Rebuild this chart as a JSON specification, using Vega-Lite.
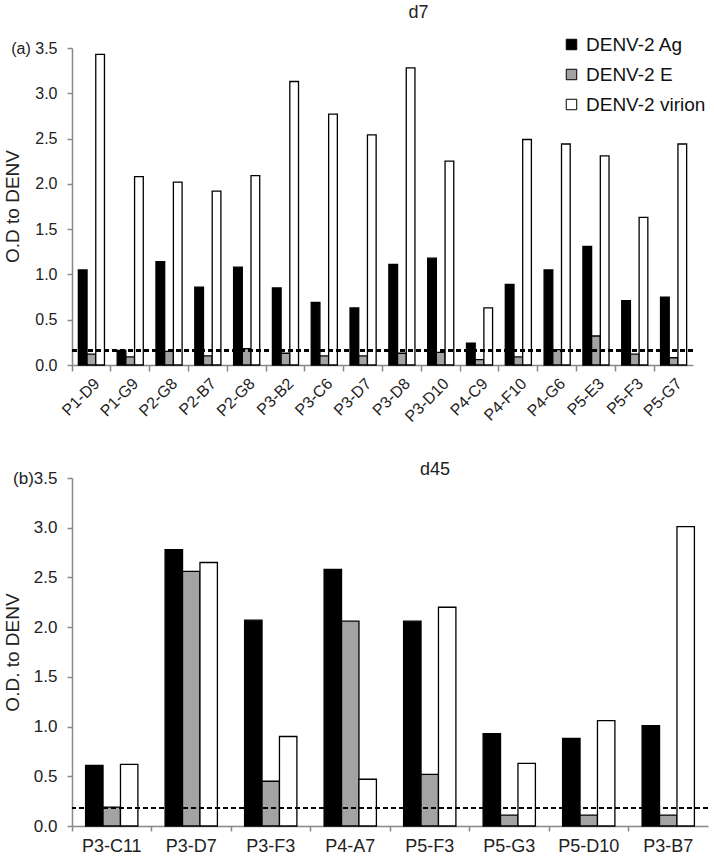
{
  "$schema": "https://vega.github.io/schema/vega-lite/v6.json",
  "padding": {"left": 3, "top": 4, "right": 5, "bottom": 2},
  "spacing": 36,
  "config": {
    "font": "Liberation Sans",
    "view": {"stroke": null},
    "axis": {"domainColor": "#888888", "tickColor": "#888888", "domainWidth": 1.5, "tickWidth": 1.5, "labelColor": "#222222", "titleColor": "#222222", "grid": false, "labelFont": "Liberation Sans", "titleFont": "Liberation Sans", "titleFontWeight": "normal"},
    "title": {"fontWeight": "normal", "fontSize": 18, "font": "Liberation Sans", "color": "#222222"}
  },
  "datasets": {
    "d7": [
      {"cat": "01:P1-D9", "series": "DENV-2 Ag", "value": 1.05},
      {"cat": "01:P1-D9", "series": "DENV-2 E", "value": 0.12},
      {"cat": "01:P1-D9", "series": "DENV-2 virion", "value": 3.43},
      {"cat": "02:P1-G9", "series": "DENV-2 Ag", "value": 0.16},
      {"cat": "02:P1-G9", "series": "DENV-2 E", "value": 0.09},
      {"cat": "02:P1-G9", "series": "DENV-2 virion", "value": 2.08},
      {"cat": "03:P2-G8", "series": "DENV-2 Ag", "value": 1.14},
      {"cat": "03:P2-G8", "series": "DENV-2 E", "value": 0.15},
      {"cat": "03:P2-G8", "series": "DENV-2 virion", "value": 2.02},
      {"cat": "04:P2-B7", "series": "DENV-2 Ag", "value": 0.86},
      {"cat": "04:P2-B7", "series": "DENV-2 E", "value": 0.10},
      {"cat": "04:P2-B7", "series": "DENV-2 virion", "value": 1.92},
      {"cat": "05:P2-G8", "series": "DENV-2 Ag", "value": 1.08},
      {"cat": "05:P2-G8", "series": "DENV-2 E", "value": 0.18},
      {"cat": "05:P2-G8", "series": "DENV-2 virion", "value": 2.09},
      {"cat": "06:P3-B2", "series": "DENV-2 Ag", "value": 0.85},
      {"cat": "06:P3-B2", "series": "DENV-2 E", "value": 0.13},
      {"cat": "06:P3-B2", "series": "DENV-2 virion", "value": 3.13},
      {"cat": "07:P3-C6", "series": "DENV-2 Ag", "value": 0.69},
      {"cat": "07:P3-C6", "series": "DENV-2 E", "value": 0.10},
      {"cat": "07:P3-C6", "series": "DENV-2 virion", "value": 2.77},
      {"cat": "08:P3-D7", "series": "DENV-2 Ag", "value": 0.63},
      {"cat": "08:P3-D7", "series": "DENV-2 E", "value": 0.10},
      {"cat": "08:P3-D7", "series": "DENV-2 virion", "value": 2.54},
      {"cat": "09:P3-D8", "series": "DENV-2 Ag", "value": 1.11},
      {"cat": "09:P3-D8", "series": "DENV-2 E", "value": 0.13},
      {"cat": "09:P3-D8", "series": "DENV-2 virion", "value": 3.28},
      {"cat": "10:P3-D10", "series": "DENV-2 Ag", "value": 1.18},
      {"cat": "10:P3-D10", "series": "DENV-2 E", "value": 0.14},
      {"cat": "10:P3-D10", "series": "DENV-2 virion", "value": 2.25},
      {"cat": "11:P4-C9", "series": "DENV-2 Ag", "value": 0.24},
      {"cat": "11:P4-C9", "series": "DENV-2 E", "value": 0.06},
      {"cat": "11:P4-C9", "series": "DENV-2 virion", "value": 0.63},
      {"cat": "12:P4-F10", "series": "DENV-2 Ag", "value": 0.89},
      {"cat": "12:P4-F10", "series": "DENV-2 E", "value": 0.09},
      {"cat": "12:P4-F10", "series": "DENV-2 virion", "value": 2.49},
      {"cat": "13:P4-G6", "series": "DENV-2 Ag", "value": 1.05},
      {"cat": "13:P4-G6", "series": "DENV-2 E", "value": 0.17},
      {"cat": "13:P4-G6", "series": "DENV-2 virion", "value": 2.44},
      {"cat": "14:P5-E3", "series": "DENV-2 Ag", "value": 1.31},
      {"cat": "14:P5-E3", "series": "DENV-2 E", "value": 0.32},
      {"cat": "14:P5-E3", "series": "DENV-2 virion", "value": 2.31},
      {"cat": "15:P5-F3", "series": "DENV-2 Ag", "value": 0.71},
      {"cat": "15:P5-F3", "series": "DENV-2 E", "value": 0.12},
      {"cat": "15:P5-F3", "series": "DENV-2 virion", "value": 1.63},
      {"cat": "16:P5-G7", "series": "DENV-2 Ag", "value": 0.75},
      {"cat": "16:P5-G7", "series": "DENV-2 E", "value": 0.08},
      {"cat": "16:P5-G7", "series": "DENV-2 virion", "value": 2.44}
    ],
    "d45": [
      {"cat": "P3-C11", "series": "DENV-2 Ag", "value": 0.61},
      {"cat": "P3-C11", "series": "DENV-2 E", "value": 0.19},
      {"cat": "P3-C11", "series": "DENV-2 virion", "value": 0.62},
      {"cat": "P3-D7", "series": "DENV-2 Ag", "value": 2.78},
      {"cat": "P3-D7", "series": "DENV-2 E", "value": 2.56},
      {"cat": "P3-D7", "series": "DENV-2 virion", "value": 2.65},
      {"cat": "P3-F3", "series": "DENV-2 Ag", "value": 2.07},
      {"cat": "P3-F3", "series": "DENV-2 E", "value": 0.45},
      {"cat": "P3-F3", "series": "DENV-2 virion", "value": 0.90},
      {"cat": "P4-A7", "series": "DENV-2 Ag", "value": 2.58},
      {"cat": "P4-A7", "series": "DENV-2 E", "value": 2.06},
      {"cat": "P4-A7", "series": "DENV-2 virion", "value": 0.47},
      {"cat": "P5-F3", "series": "DENV-2 Ag", "value": 2.06},
      {"cat": "P5-F3", "series": "DENV-2 E", "value": 0.52},
      {"cat": "P5-F3", "series": "DENV-2 virion", "value": 2.20},
      {"cat": "P5-G3", "series": "DENV-2 Ag", "value": 0.93},
      {"cat": "P5-G3", "series": "DENV-2 E", "value": 0.11},
      {"cat": "P5-G3", "series": "DENV-2 virion", "value": 0.63},
      {"cat": "P5-D10", "series": "DENV-2 Ag", "value": 0.88},
      {"cat": "P5-D10", "series": "DENV-2 E", "value": 0.11},
      {"cat": "P5-D10", "series": "DENV-2 virion", "value": 1.06},
      {"cat": "P3-B7", "series": "DENV-2 Ag", "value": 1.01},
      {"cat": "P3-B7", "series": "DENV-2 E", "value": 0.11},
      {"cat": "P3-B7", "series": "DENV-2 virion", "value": 3.01}
    ]
  },
  "resolve": {"scale": {"color": "independent", "fill": "independent", "x": "independent", "y": "independent", "xOffset": "independent"}, "legend": {"fill": "independent"}},
  "vconcat": [
    {
      "title": {"text": "d7", "dx": 36, "offset": 13},
      "width": 621,
      "height": 317,
      "data": {"name": "d7"},
      "layer": [
        {
          "mark": {"type": "bar", "stroke": "black", "strokeWidth": 1.3},
          "encoding": {
            "x": {"field": "cat", "type": "nominal", "sort": null, "scale": {"paddingInner": 0, "paddingOuter": 0},
              "axis": {"title": null, "labelAngle": -45, "labelExpr": "split(datum.label, ':')[1]", "bandPosition": 0, "labelFontSize": 16, "tickSize": 6, "labelPadding": 4}},
            "xOffset": {"field": "series", "type": "nominal", "scale": {"domain": ["DENV-2 Ag", "DENV-2 E", "DENV-2 virion"], "paddingOuter": 0.73, "paddingInner": 0}},
            "y": {"field": "value", "type": "quantitative", "scale": {"domain": [0, 3.5], "nice": false},
              "axis": {"title": "O.D to DENV", "values": [0, 0.5, 1, 1.5, 2, 2.5, 3, 3.5], "format": ".1f", "labelExpr": "datum.value == 3.5 ? '(a) 3.5' : datum.label", "titleX": -50, "titleY": 158, "titleFontSize": 19, "labelFontSize": 16, "tickSize": 5, "labelPadding": 10}},
            "fill": {"field": "series", "type": "nominal", "scale": {"domain": ["DENV-2 Ag", "DENV-2 E", "DENV-2 virion"], "range": ["#000000", "#a3a3a3", "#ffffff"]},
              "legend": {"title": null, "orient": "none", "legendX": 490, "legendY": -13, "symbolType": "square", "symbolSize": 110, "symbolStrokeColor": "black", "symbolStrokeWidth": 1, "labelFontSize": 19, "rowPadding": 10, "labelOffset": 5, "labelColor": "#111111"}}
          }
        },
        {
          "mark": {"type": "rule", "strokeDash": [5, 3], "color": "black", "strokeWidth": 1.5},
          "encoding": {"y": {"datum": 0.16}}
        }
      ]
    },
    {
      "title": {"text": "d45", "dx": 45, "offset": -10},
      "width": 636,
      "height": 348,
      "data": {"name": "d45"},
      "layer": [
        {
          "mark": {"type": "bar", "stroke": "black", "strokeWidth": 1.3},
          "encoding": {
            "x": {"field": "cat", "type": "nominal", "sort": null, "scale": {"paddingInner": 0, "paddingOuter": 0},
              "axis": {"title": null, "labelAngle": 0, "bandPosition": 0, "labelFontSize": 18, "tickSize": 5, "labelPadding": 6}},
            "xOffset": {"field": "series", "type": "nominal", "scale": {"domain": ["DENV-2 Ag", "DENV-2 E", "DENV-2 virion"], "paddingOuter": 0.78, "paddingInner": 0}},
            "y": {"field": "value", "type": "quantitative", "scale": {"domain": [0, 3.5], "nice": false},
              "axis": {"title": "O.D. to DENV", "values": [0, 0.5, 1, 1.5, 2, 2.5, 3, 3.5], "format": ".1f", "labelExpr": "datum.value == 3.5 ? '(b)3.5' : datum.label", "titleX": -50, "titleY": 174, "titleFontSize": 19, "labelFontSize": 17, "tickSize": 5, "labelPadding": 10}},
            "fill": {"field": "series", "type": "nominal", "scale": {"domain": ["DENV-2 Ag", "DENV-2 E", "DENV-2 virion"], "range": ["#000000", "#a3a3a3", "#ffffff"]}, "legend": null}
          }
        },
        {
          "mark": {"type": "rule", "strokeDash": [5, 3], "color": "black", "strokeWidth": 1.5},
          "encoding": {"y": {"datum": 0.18}}
        }
      ]
    }
  ]
}
